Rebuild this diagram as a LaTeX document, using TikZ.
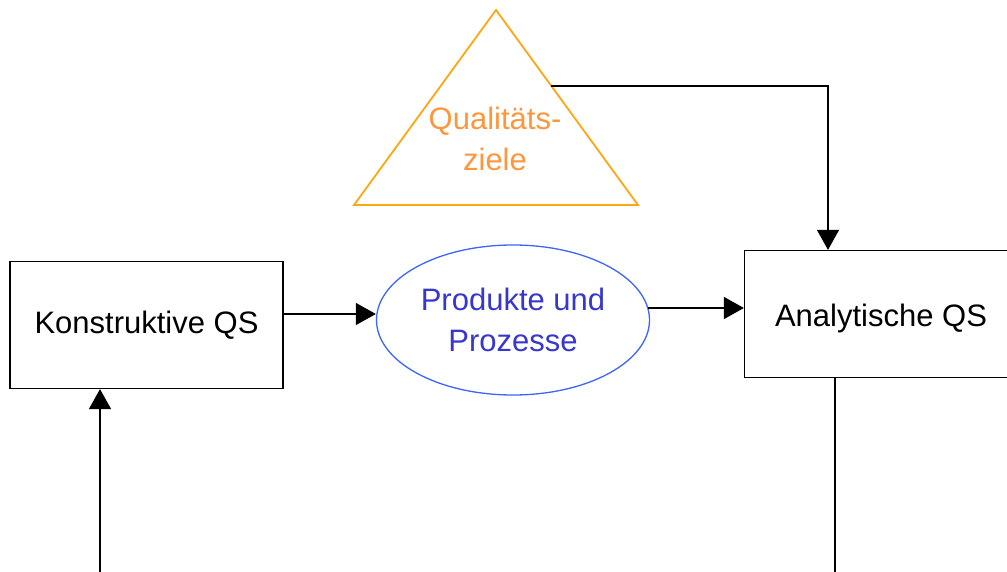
\documentclass[tikz,border=0pt]{standalone}
\usepackage{fontspec}
\setmainfont{Liberation Sans}
\usetikzlibrary{arrows.meta,calc,shapes.geometric}
\definecolor{zielorange}{RGB}{255,166,20}
\definecolor{zieltext}{RGB}{255,150,60}
\definecolor{prodrand}{RGB}{60,100,255}
\definecolor{prodtext}{RGB}{55,55,205}
\begin{document}
\begin{tikzpicture}
[
    x=1pt, y=-1pt,
    font=\fontsize{31}{41}\selectfont,
    qsbox/.style={draw, line width=1.2pt, minimum width=273pt, minimum height=127pt, inner sep=0pt},
    pfeil/.style={line width=1.2pt, -{Triangle[length=20pt,width=22pt]}},
    linie/.style={line width=1.2pt},
]
\clip (0,0) rectangle (1007,572);
% Qualitaetsziele
\coordinate (spitze) at (496,10);
\coordinate (linksunten) at (354,205);
\coordinate (rechtsunten) at (638,205);
\draw[zielorange, line width=1.8pt] (spitze) -- (rechtsunten) -- (linksunten) -- cycle;
\node[zieltext, align=center] (ziele) at (495,139) {Qualitäts-\\ziele};
\coordinate (zielrand) at ($(spitze)!0.39!(rechtsunten)$);
% Boxen und Ellipse
\node[qsbox] (konstr) at (146.5,325) {Konstruktive QS};
\node[qsbox, text height=30pt, text depth=6pt] (analyt) at (881,314) {Analytische QS};
\node[draw=prodrand, line width=1.3pt, ellipse, minimum width=273pt, minimum height=150pt, inner sep=0pt,
      text=prodtext, align=center] (produkte) at (513,320) {Produkte und\\Prozesse};
\coordinate (unten1) at (835,600);
\coordinate (unten2) at (100,600);
% Pfeile
\coordinate (k1) at ([yshift=11pt]konstr.east);
\draw[pfeil] (k1) -- (k1 -| produkte.west);
\coordinate (p1) at ([yshift=12pt]produkte.east);
\draw[pfeil] ([xshift=-2pt]p1) -- (p1 -| analyt.west);
\draw[pfeil] (zielrand) -| ([xshift=-53pt]analyt.north);
\draw[linie] (unten1 |- analyt.south) -- (unten1);
\draw[pfeil] (unten2) -- (unten2 |- konstr.south);
\end{tikzpicture}
\end{document}
